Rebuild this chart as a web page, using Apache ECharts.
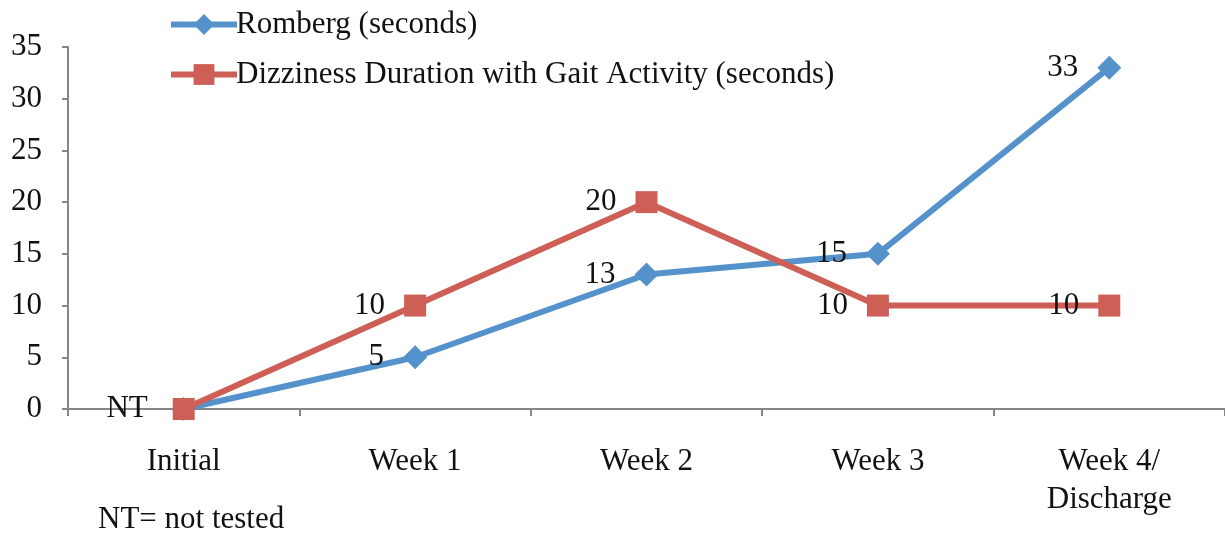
<!DOCTYPE html>
<html>
<head>
<meta charset="utf-8">
<script src="https://cdn.jsdelivr.net/npm/echarts@6/dist/echarts.min.js"></script>
<style>
  html, body { margin: 0; padding: 0; background: #fff; }
  #chart { width: 1225px; height: 539px; }
</style>
</head>
<body>
<div id="chart"></div>
<script>
// categories and values
const categories = ['Initial', 'Week 1', 'Week 2', 'Week 3', 'Week 4/\nDischarge']
const romberg = [0, 5, 13, 15, 33]
const rombergLabels = ['NT', '5', '13', '15', '33']
const dizziness = [0, 10, 20, 10, 10]
const dizzinessLabels = ['', '10', '20', '10', '10']

const FONT = '"Liberation Serif", serif'
const BLUE = '#5592CB'
const RED = '#CD5F56'

const chart = echarts.init(document.getElementById('chart'))

// build per-point data so the label text can differ (NT for not tested)
const toData = (vals, labels) => vals.map((v, i) => ({
  value: v,
  label: { show: labels[i] !== '', formatter: labels[i], distance: i === 0 ? 24 : 19 }
}))

const labelStyle = {
  position: 'left',
  color: '#111',
  fontFamily: FONT,
  fontSize: 31
}

chart.setOption({
  animation: false,
  textStyle: { fontFamily: FONT },
  grid: { left: 68, right: 0, top: 47, bottom: 130 },
  legend: {
    orient: 'vertical',
    left: 163,
    top: 4,
    itemGap: 19,
    itemWidth: 66,
    itemHeight: 26,
    lineStyle: { width: 6 },
    textStyle: { fontFamily: FONT, fontSize: 31, color: '#111', padding: [0, 0, 0, -6] },
    data: ['Romberg (seconds)', 'Dizziness Duration with Gait Activity (seconds)']
  },
  xAxis: {
    type: 'category',
    data: categories,
    boundaryGap: true,
    axisLine: { lineStyle: { color: '#868686', width: 2 } },
    axisTick: { show: true, length: 7, lineStyle: { color: '#868686', width: 2 } },
    axisLabel: { color: '#111', fontFamily: FONT, fontSize: 31, margin: 34, lineHeight: 38 }
  },
  yAxis: {
    type: 'value',
    min: 0,
    max: 35,
    interval: 5,
    axisLine: { show: true, lineStyle: { color: '#868686', width: 2 } },
    axisTick: { show: true, length: 6, lineStyle: { color: '#868686', width: 2 } },
    splitLine: { show: false },
    axisLabel: { color: '#111', fontFamily: FONT, fontSize: 31, margin: 26, padding: [4, 0, 0, 0] }
  },
  series: [
    {
      name: 'Romberg (seconds)',
      type: 'line',
      data: toData(romberg, rombergLabels),
      symbol: 'diamond',
      symbolSize: 24,
      lineStyle: { color: BLUE, width: 6 },
      itemStyle: { color: BLUE },
      label: labelStyle,
      z: 2
    },
    {
      name: 'Dizziness Duration with Gait Activity (seconds)',
      type: 'line',
      data: toData(dizziness, dizzinessLabels),
      symbol: 'rect',
      symbolSize: 22,
      lineStyle: { color: RED, width: 6 },
      itemStyle: { color: RED },
      label: labelStyle,
      z: 3
    }
  ],
  graphic: [
    {
      type: 'text',
      left: 98,
      top: 504,
      style: { text: 'NT= not tested', font: '31px ' + FONT, fill: '#111' }
    }
  ]
})
</script>
</body>
</html>
